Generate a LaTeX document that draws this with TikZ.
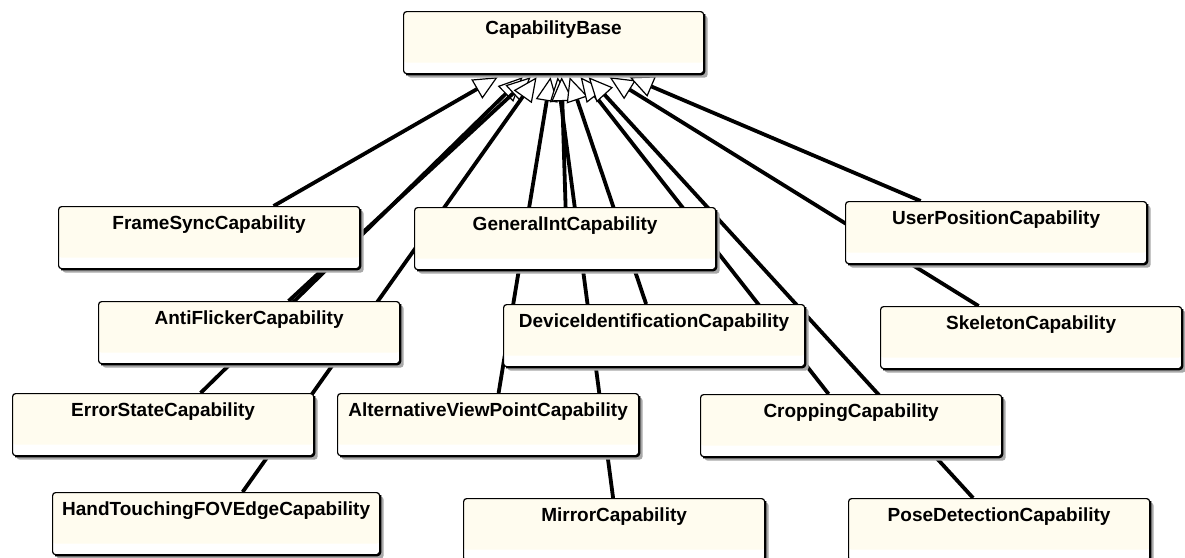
\documentclass[tikz,border=0pt]{standalone}
\usepackage{fontspec}
\setmainfont{Liberation Sans}
\usetikzlibrary{arrows.meta,shadows}
\definecolor{classfill}{HTML}{FFFCEF}
\definecolor{shadowgray}{HTML}{A8A8A8}
\pgfdeclarelayer{paper}
\pgfdeclarelayer{links}
\pgfsetlayers{paper,links,main}
\tikzset{
  classbox/.style={draw=black, line width=1.2pt, rounded corners=3pt,
    anchor=north west, minimum width=301pt, minimum height=62pt,
    inner sep=5pt, text height=18pt, text depth=34pt,
    font=\fontsize{19}{22}\selectfont\bfseries, fill=white,
    path picture={\fill[classfill] (path picture bounding box.north west)
      rectangle ([yshift=11pt]path picture bounding box.south east);},
    drop shadow={shadow xshift=4pt, shadow yshift=-4pt, fill=shadowgray, opacity=1}},
  heavyedge/.style={line width=2.2pt, rounded corners=3pt},
  inherit/.style={line width=3.8pt,
    -{Triangle[fill=white, length=24pt, width=22pt, line width=1.2pt]}},
}
\begin{document}
\begin{tikzpicture}[x=1pt, y=-1pt]
\useasboundingbox (0,0) rectangle (1185,557);
\begin{pgfonlayer}{paper}
  \fill[white] (0,0) rectangle (1185,557);
\end{pgfonlayer}

% classes
\node[classbox, minimum width=300pt] (base) at (403,11) {CapabilityBase};
\node[classbox] (fs)   at (58,206)  {FrameSyncCapability};
\node[classbox] (gi)   at (414,207) {GeneralIntCapability};
\node[classbox] (up)   at (845,201) {UserPositionCapability};
\node[classbox] (af)   at (98,301)  {AntiFlickerCapability};
\node[classbox] (di)   at (503,304) {DeviceIdentificationCapability};
\node[classbox] (sk)   at (880,306) {SkeletonCapability};
\node[classbox] (es)   at (12,393)  {ErrorStateCapability};
\node[classbox] (av)   at (337,393) {AlternativeViewPointCapability};
\node[classbox] (cr)   at (700,394) {CroppingCapability};
\node[classbox, minimum width=327pt] (ht) at (52,492) {HandTouchingFOVEdgeCapability};
\node[classbox] (mi)   at (463,498) {MirrorCapability};
\node[classbox] (pd)   at (848,498) {PoseDetectionCapability};

% heavier right and bottom borders
\foreach \n in {base,fs,gi,up,af,di,sk,es,av,cr,ht,mi,pd}
  \draw[heavyedge] ([yshift=-3pt]\n.north east) -- (\n.south east) -- ([xshift=3pt]\n.south west);

% generalisation links, all ending on CapabilityBase
\begin{pgfonlayer}{links}
  \draw[inherit] ([xshift=64.5pt]fs.north) -- ([xshift=-56pt,yshift=-3pt]base.south);
  \draw[inherit] ([xshift=37.5pt]es.north) -- ([xshift=-31pt,yshift=-3pt]base.south);
  \draw[inherit] ([xshift=39.5pt]af.north) -- ([xshift=-23pt,yshift=-3pt]base.south);
  \draw[inherit] ([xshift=26.5pt]ht.north) -- ([xshift=-17pt,yshift=-3pt]base.south);
  \draw[inherit] ([xshift=10.5pt]av.north) -- ([xshift=-3pt,yshift=-3pt]base.south);
  \draw[inherit] ([xshift=-1pt]mi.north)   -- ([xshift=4pt,yshift=-3pt]base.south);
  \draw[inherit] ([xshift=0.5pt]gi.north)  -- ([xshift=8pt,yshift=-3pt]base.south);
  \draw[inherit] ([xshift=-8pt]di.north)   -- ([xshift=16pt,yshift=-3pt]base.south);
  \draw[inherit] ([xshift=-22.5pt]cr.north) -- ([xshift=27pt,yshift=-3pt]base.south);
  \draw[inherit] ([xshift=-26pt]pd.north)  -- ([xshift=35pt,yshift=-3pt]base.south);
  \draw[inherit] ([xshift=-52.5pt]sk.north) -- ([xshift=56pt,yshift=-3pt]base.south);
  \draw[inherit] ([xshift=-75.5pt]up.north) -- ([xshift=76pt,yshift=-3pt]base.south);
\end{pgfonlayer}
\end{tikzpicture}
\end{document}
